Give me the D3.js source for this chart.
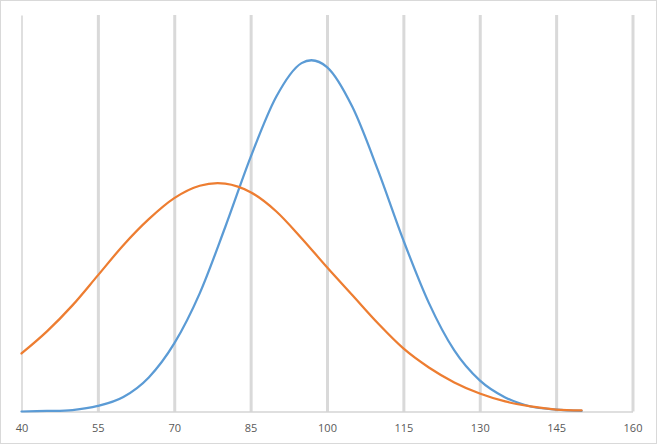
<!DOCTYPE html>
<html>
<head>
<meta charset="utf-8">
<script src="https://cdn.jsdelivr.net/npm/d3@7"></script>
<style>
    html, body { margin: 0; padding: 0; background: #fff; }
    svg { display: block; }
</style>
</head>
<body>
<div id="chart"></div>
<script>
// Données (x tous les 5)
const xValues = [40, 45, 50, 55, 60, 65, 70, 75, 80, 85, 90, 95, 100, 105, 110, 115, 120, 125, 130, 135, 140, 145, 150];
const blueValues = [0.00000, 0.00004, 0.00011, 0.00042, 0.00110, 0.00258, 0.00515, 0.00894, 0.01394, 0.01924, 0.02379, 0.02636, 0.02606, 0.02303, 0.01826, 0.01296, 0.00822, 0.00462, 0.00235, 0.00106, 0.00038, 0.00015, 0.00004];
const orangeValues = [0.00439, 0.00606, 0.00803, 0.01030, 0.01258, 0.01455, 0.01614, 0.01708, 0.01724, 0.01659, 0.01515, 0.01311, 0.01091, 0.00879, 0.00667, 0.00477, 0.00333, 0.00220, 0.00136, 0.00076, 0.00038, 0.00015, 0.00008];
const xTicks = [40, 55, 70, 85, 100, 115, 130, 145, 160];

const WIDTH = 657;
const HEIGHT = 444;

function renderChart() {
    const svg = d3.select('#chart').append('svg')
        .attr('width', WIDTH)
        .attr('height', HEIGHT);

    // Cadre extérieur
    svg.append('rect')
        .attr('x', 0.5).attr('y', 0.5)
        .attr('width', WIDTH - 1).attr('height', HEIGHT - 1)
        .attr('fill', '#fff')
        .attr('stroke', '#d9d9d9');

    const xScale = d3.scaleLinear().domain([40, 160]).range([21.5, 632.5]);
    const yScale = d3.scaleLinear().domain([0, 0.03]).range([411.5, 15]);

    // Grille verticale
    svg.append('g')
        .attr('transform', `translate(0,${yScale(0)})`)
        .call(d3.axisBottom(xScale)
            .tickValues(xTicks.slice(1))
            .tickSize(-(yScale(0) - yScale(0.03)))
            .tickFormat(''))
        .call(g => g.select('.domain').remove())
        .call(g => g.selectAll('.tick line')
            .attr('stroke', '#d9d9d9')
            .attr('stroke-width', 3));

    // Axe vertical (sans étiquettes)
    svg.append('g')
        .attr('transform', `translate(${xScale(40)},0)`)
        .call(d3.axisLeft(yScale).tickValues([]).tickSizeOuter(0))
        .call(g => g.select('.domain').attr('stroke', '#bfbfbf'));

    // Axe horizontal
    svg.append('g')
        .attr('transform', `translate(0,${yScale(0)})`)
        .call(d3.axisBottom(xScale)
            .tickValues(xTicks)
            .tickSize(0)
            .tickSizeOuter(0)
            .tickPadding(13))
        .call(g => g.select('.domain').attr('stroke', '#bfbfbf'))
        .call(g => g.selectAll('.tick text')
            .attr('fill', '#595959')
            .attr('font-family', '"Open Sans", "Liberation Sans", sans-serif')
            .attr('font-size', '11px'));

    // Courbes lissées (Catmull-Rom uniforme, comme le lissage d'Excel)
    const line = d3.line()
        .x(d => xScale(d.x))
        .y(d => yScale(d.y))
        .curve(d3.curveCatmullRom.alpha(0));

    const series = [
        { values: blueValues, color: '#5b9bd5' },
        { values: orangeValues, color: '#ed7d31' }
    ];

    series.forEach(s => {
        const pts = xValues.map((x, i) => ({ x: x, y: s.values[i] }));
        svg.append('path')
            .datum(pts)
            .attr('d', line)
            .attr('fill', 'none')
            .attr('stroke', s.color)
            .attr('stroke-width', 2.25)
            .attr('stroke-linecap', 'round');
    });
}

renderChart();
</script>
</body>
</html>
